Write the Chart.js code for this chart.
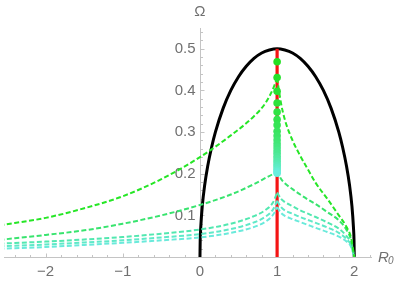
<!DOCTYPE html>
<html>
<head>
<meta charset="utf-8">
<script src="https://cdn.jsdelivr.net/npm/chart.js@4.4.1/dist/chart.umd.min.js"></script>
<style>
  html, body { margin: 0; padding: 0; background: #fff; }
</style>
</head>
<body>
<canvas id="chart" width="401" height="281"></canvas>
<script>
// sample positions along R0 for the dashed curves (split at the cusp R0 = 1)
const leftR = [-2.6, -2, -1.5, -1, -0.5, 0, 0.4, 0.7, 0.85, 0.95, 1];
const rightR = [1, 1.05, 1.1, 1.2, 1.3, 1.4, 1.5, 1.65, 1.8, 1.9, 1.96, 2];

const curve1Left = [0.076, 0.094, 0.117, 0.146, 0.187, 0.240, 0.292, 0.338, 0.370, 0.405, 0.430];
const curve2Left = [0.041, 0.053, 0.064, 0.080, 0.100, 0.125, 0.150, 0.175, 0.190, 0.200, 0.208];
const curve3Left = [0.032, 0.037, 0.042, 0.048, 0.056, 0.066, 0.080, 0.098, 0.113, 0.132, 0.155];
const curve4Left = [0.026, 0.030, 0.035, 0.040, 0.047, 0.055, 0.067, 0.083, 0.097, 0.115, 0.135];
const curve5Left = [0.020, 0.024, 0.029, 0.034, 0.040, 0.047, 0.058, 0.072, 0.085, 0.102, 0.120];

const curve1Right = [0.430, 0.370, 0.330, 0.280, 0.243, 0.210, 0.178, 0.140, 0.100, 0.072, 0.045, 0];
const curve2Right = [0.208, 0.188, 0.177, 0.163, 0.150, 0.138, 0.127, 0.108, 0.088, 0.065, 0.040, 0];
const curve3Right = [0.155, 0.140, 0.132, 0.122, 0.112, 0.104, 0.096, 0.083, 0.068, 0.050, 0.032, 0];
const curve4Right = [0.135, 0.120, 0.112, 0.104, 0.096, 0.089, 0.082, 0.071, 0.058, 0.043, 0.028, 0];
const curve5Right = [0.120, 0.106, 0.099, 0.091, 0.084, 0.077, 0.070, 0.060, 0.049, 0.037, 0.024, 0];

const curveColors = ['#26e626', '#38e46e', '#52e8b0', '#5fe9c8', '#6aeadb'];

// black boundary
const ellipseR = [0, 0.003, 0.01, 0.03, 0.06, 0.1, 0.15, 0.2, 0.3, 0.4, 0.5, 0.6, 0.7, 0.8, 0.9, 1,
                  1.1, 1.2, 1.3, 1.4, 1.5, 1.6, 1.7, 1.8, 1.85, 1.9, 1.94, 1.97, 1.99, 1.997, 2];
const ellipseOmega = [0, 0.039, 0.07, 0.122, 0.171, 0.218, 0.263, 0.3, 0.357, 0.4, 0.433, 0.458, 0.477, 0.49, 0.497, 0.5,
                      0.497, 0.49, 0.477, 0.458, 0.433, 0.4, 0.357, 0.3, 0.263, 0.218, 0.171, 0.122, 0.07, 0.039, 0];

// red segment and green dots on R0 = 1
const redOmega = [0, 0.5];
const dotOmega = [0.469, 0.431, 0.398, 0.370, 0.348, 0.330, 0.317, 0.302, 0.291, 0.281, 0.272,
                  0.264, 0.256, 0.249, 0.242, 0.236, 0.230, 0.224, 0.219, 0.214, 0.209, 0.205, 0.201];

const xTicks = [-2, -1, 0, 1, 2];
const yTicks = [0.1, 0.2, 0.3, 0.4, 0.5];

function pts(xs, ys) {
    return xs.map((x, i) => ({ x: x, y: ys[i] }));
}

function mix(a, b, t) {
    const c = a.map((v, i) => Math.round(v + (b[i] - v) * t));
    return `rgb(${c[0]}, ${c[1]}, ${c[2]})`;
}

const lefts = [curve1Left, curve2Left, curve3Left, curve4Left, curve5Left];
const rights = [curve1Right, curve2Right, curve3Right, curve4Right, curve5Right];

const datasets = [];

datasets.push({
    data: pts(ellipseR, ellipseOmega),
    borderColor: '#000',
    borderWidth: 3,
    pointRadius: 0,
    cubicInterpolationMode: 'monotone',
    order: 4
});

datasets.push({
    data: pts([1, 1], redOmega),
    borderColor: '#f41414',
    borderWidth: 3.2,
    pointRadius: 0,
    order: 3
});

lefts.forEach((c, i) => {
    [pts(leftR, c), pts(rightR, rights[i])].forEach(d => {
        datasets.push({
            data: d,
            borderColor: curveColors[i],
            borderWidth: 2,
            borderDash: [5, 2.5],
            pointRadius: 0,
            cubicInterpolationMode: 'monotone',
            order: 2
        });
    });
});

datasets.push({
    type: 'scatter',
    data: dotOmega.map(v => ({ x: 1, y: v })),
    pointRadius: 3.8,
    pointBorderWidth: 0,
    pointBackgroundColor: dotOmega.map((v, i) => mix([34, 224, 34], [104, 238, 222], i / (dotOmega.length - 1))),
    showLine: false,
    order: 1
});

const fmtX = v => (v < 0 ? '\u2212' + Math.abs(v) : String(v));

// axis lines, inward tick marks, tick labels and axis titles
const axisDecor = {
    id: 'axisDecor',
    beforeDatasetsDraw(chart) {
        const { ctx, chartArea, scales: { x, y } } = chart;
        const x0 = Math.round(x.getPixelForValue(0)) + 0.5;
        const y0 = Math.round(y.getPixelForValue(0)) + 0.5;
        ctx.save();
        ctx.strokeStyle = '#c4c4c4';
        ctx.lineWidth = 1;
        ctx.beginPath();
        ctx.moveTo(chartArea.left, y0);
        ctx.lineTo(chartArea.right, y0);
        ctx.moveTo(x0, y0);
        ctx.lineTo(x0, chartArea.top);
        for (let k = -12; k <= 11; k++) {
            const px = Math.round(x.getPixelForValue(k * 0.2)) + 0.5;
            const len = k % 5 === 0 ? 4 : 2.5;
            ctx.moveTo(px, y0);
            ctx.lineTo(px, y0 - len);
        }
        for (let k = 1; k <= 27; k++) {
            const py = Math.round(y.getPixelForValue(k * 0.02)) + 0.5;
            const len = k % 5 === 0 ? 4 : 2.5;
            ctx.moveTo(x0, py);
            ctx.lineTo(x0 + len, py);
        }
        ctx.stroke();

        ctx.fillStyle = '#707070';
        ctx.font = '15px "Liberation Sans"';
        ctx.textBaseline = 'middle';
        ctx.textAlign = 'center';
        xTicks.forEach(v => ctx.fillText(fmtX(v), x.getPixelForValue(v), y0 + 14));
        ctx.textAlign = 'right';
        yTicks.forEach(v => ctx.fillText(v.toFixed(1), x0 - 5, y.getPixelForValue(v)));
        ctx.restore();
    },
    afterDraw(chart) {
        const { ctx, chartArea, scales: { x, y } } = chart;
        const x0 = x.getPixelForValue(0);
        const y0 = y.getPixelForValue(0);
        ctx.save();
        ctx.fillStyle = '#707070';
        ctx.textAlign = 'center';
        ctx.textBaseline = 'middle';
        ctx.font = '15px "Liberation Sans"';
        ctx.fillText('\u03A9', x0, 12);
        ctx.textAlign = 'left';
        ctx.textBaseline = 'alphabetic';
        ctx.font = 'italic 15px "Liberation Sans"';
        ctx.fillText('R', chartArea.right + 6, y0 + 5);
        ctx.font = 'italic 10px "Liberation Sans"';
        ctx.fillText('0', chartArea.right + 16, y0 + 7);
        ctx.restore();
    }
};

new Chart(document.getElementById('chart'), {
    type: 'line',
    data: { datasets: datasets },
    options: {
        responsive: false,
        animation: false,
        devicePixelRatio: 1,
        layout: { padding: { left: 0, right: 29, top: 28, bottom: 24 } },
        plugins: {
            legend: { display: false },
            tooltip: { enabled: false }
        },
        scales: {
            x: {
                type: 'linear',
                min: -2.54,
                max: 2.23,
                afterFit: s => { s.height = 0; },
                grid: { display: false },
                border: { display: false },
                ticks: { display: false }
            },
            y: {
                type: 'linear',
                min: 0,
                max: 0.55,
                afterFit: s => { s.width = 0; },
                grid: { display: false },
                border: { display: false },
                ticks: { display: false }
            }
        }
    },
    plugins: [axisDecor]
});
</script>
</body>
</html>
